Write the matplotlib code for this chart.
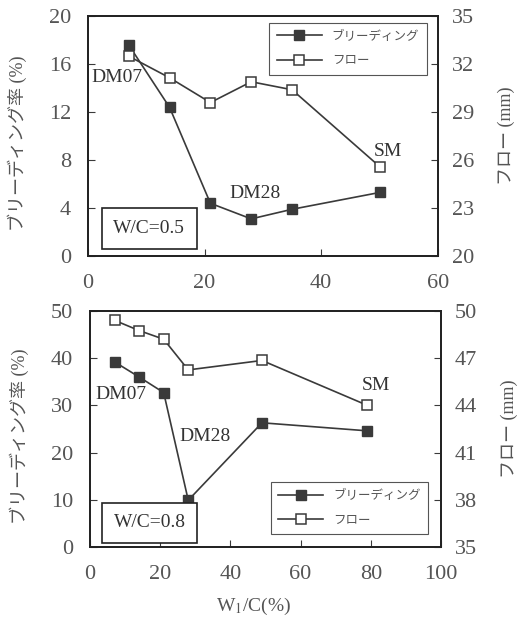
import matplotlib
matplotlib.use('Agg')
import matplotlib.pyplot as plt

plt.rcParams['font.family'] = ['Liberation Serif', 'Noto Sans CJK JP']
plt.rcParams['mathtext.fontset'] = 'stix'

# W/C=0.5 panel
x_top = [7, 14, 21, 28, 35, 50]
bleed_top = [17.6, 12.4, 4.4, 3.1, 3.9, 5.3]
flow_top = [32.5, 31.15, 29.6, 30.9, 30.4, 25.6]

# W/C=0.8 panel
x_bot = [7, 14, 21, 28, 49, 79]
bleed_bot = [39.2, 36.0, 32.7, 9.9, 26.3, 24.6]
flow_bot = [49.4, 48.75, 48.2, 46.25, 46.85, 44.0]

lbl_bleed = 'ブリーディング'
lbl_flow = 'フロー'
gray = '#3a3a3a'
tgray = '#555555'

fig = plt.figure(figsize=(5.17, 6.23), dpi=100)
ax1 = fig.add_axes([0.170, 0.589, 0.677, 0.385])
ax2 = fig.add_axes([0.174, 0.122, 0.679, 0.379])


def panel(ax, x, b, f, xlim, yl, yr, yt, rt, xt, wc, wcpos, ann, legloc, legbox):
    axr = ax.twinx()
    l1, = ax.plot(x, b, '-s', color=gray, mfc=gray, mec=gray, ms=6.5, lw=1.2)
    l2, = axr.plot(x, f, '-s', color=gray, mfc='white', mec=gray, ms=6.5, lw=1.2, mew=1.1)
    ax.set_xlim(xlim)
    ax.set_ylim(yl)
    axr.set_ylim(yr)
    ax.set_xticks(xt)
    ax.set_yticks(yt)
    axr.set_yticks(rt)
    for a in (ax, axr):
        a.tick_params(direction='in', length=5, width=0.8, labelsize=16,
                      labelcolor=tgray, color=gray)
        for s in a.spines.values():
            s.set_linewidth(1.3)
            s.set_color('#222222')
    ax.tick_params(axis='x', pad=13)
    ax.tick_params(axis='y', pad=12)
    axr.tick_params(axis='y', pad=10)
    ax.set_ylabel('ブリーディング率 (%)', fontsize=13, color=tgray)
    ax.yaxis.set_label_coords(-0.175, 0.47)
    axr.set_ylabel('フロー (mm)', fontsize=13, color=tgray, rotation=90)
    axr.yaxis.set_label_coords(1.17, 0.5)
    for t, tx, ty in ann:
        ax.text(tx, ty, t, fontsize=14, color='#333333', ha='center', va='center')
    ax.text(wcpos[0], wcpos[1], wc, fontsize=14, color='#333333', ha='center', va='center',
            bbox=dict(boxstyle='square,pad=0.6', fc='white', ec='#222222', lw=1.2))
    leg = ax.legend([l1, l2], [lbl_bleed, lbl_flow], loc=legloc, bbox_to_anchor=legbox,
                    borderaxespad=0, fontsize=9, handlelength=3.6, fancybox=False,
                    edgecolor='#555555', framealpha=1, labelspacing=1.0, borderpad=0.6)
    leg.get_frame().set_linewidth(0.8)
    for t in leg.get_texts():
        t.set_color(tgray)
    return axr


panel(ax1, x_top, bleed_top, flow_top, (0, 60), (0, 20), (20, 35),
      [0, 4, 8, 12, 16, 20], [20, 23, 26, 29, 32, 35], [0, 20, 40, 60],
      'W/C=0.5', (10.5, 2.3),
      [('DM07', 4.9, 14.9), ('DM28', 28.7, 5.2), ('SM', 51.5, 8.7)],
      'upper right', (0.968, 0.972))

panel(ax2, x_bot, bleed_bot, flow_bot, (0, 100), (0, 50), (35, 50),
      [0, 10, 20, 30, 40, 50], [35, 38, 41, 44, 47, 50], [0, 20, 40, 60, 80, 100],
      'W/C=0.8', (17, 5.1),
      [('DM07', 8.9, 32.2), ('DM28', 32.9, 23.4), ('SM', 81.4, 34.3)],
      'lower right', (0.963, 0.055))

fig.text(0.49, 0.026, r'W$_1$/C(%)', fontsize=14, color=tgray, ha='center', va='center')

fig.savefig('out.png', dpi=100)
